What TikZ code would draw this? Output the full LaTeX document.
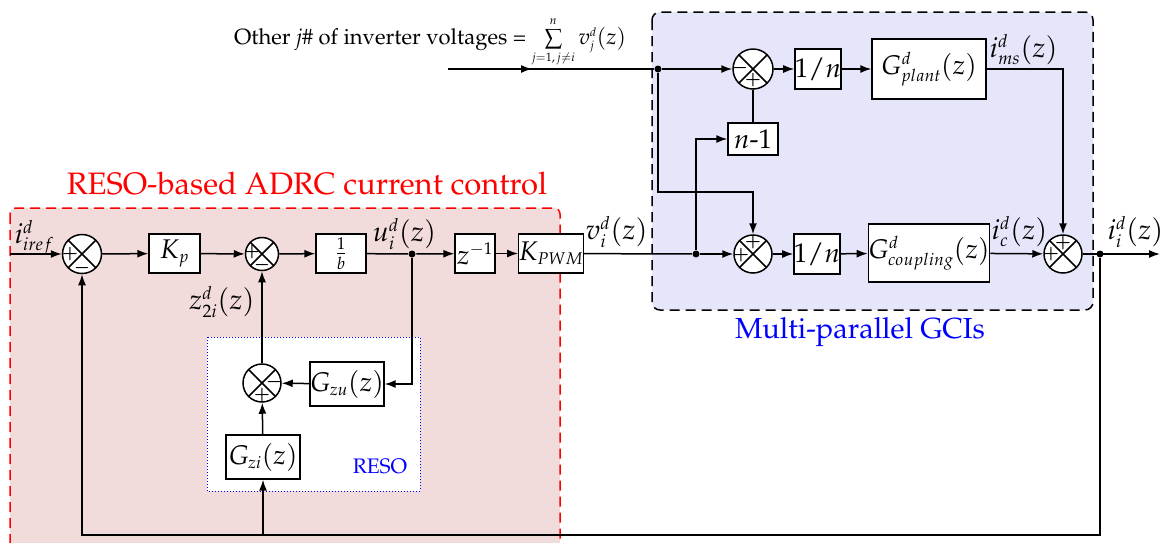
\documentclass[tikz,border=0pt]{standalone}
\usepackage[T1]{fontenc}
\usepackage{mathpazo}
\DeclareMathSizes{28}{28}{18}{13}
\DeclareMathSizes{27}{27}{17}{12}
\DeclareMathSizes{22}{22}{12}{9}
\usetikzlibrary{arrows.meta}
\definecolor{redfill}{RGB}{242,220,219}
\definecolor{bluefill}{RGB}{230,230,250}
\begin{document}
\begin{tikzpicture}[x=1pt,y=-1pt, line width=1.5pt,
  >={Latex[length=11pt,width=8pt]},
  blk/.style={draw, fill=white, line width=1.3pt, inner sep=0pt, font=\fontsize{27}{32}\selectfont},
  sumnode/.style={circle, draw, fill=white, inner sep=0pt, minimum size=#1, line width=1.5pt,
    path picture={\draw[line width=1.5pt] (path picture bounding box.north west)--(path picture bounding box.south east)
      (path picture bounding box.north east)--(path picture bounding box.south west);}},
  sgn/.style={font=\fontsize{17}{17}\selectfont\boldmath, inner sep=0pt},
  lbl/.style={font=\fontsize{28}{32}\selectfont, inner sep=0pt},
  dotn/.style={circle, fill, inner sep=0pt, minimum size=7pt}]
\useasboundingbox (0,0) rectangle (1161,542);
% backgrounds
\draw[red, dash pattern=on 10pt off 6pt, fill=redfill, rounded corners=6, line width=1.5pt] (10,208) rectangle (560,552);
\draw[black, dash pattern=on 10pt off 6pt, fill=bluefill, rounded corners=8, line width=1.5pt] (652,12) rectangle (1093,310);
\draw[blue, dotted, fill=white, line width=1pt] (207,337) rectangle (420,491);
% titles
\node[font=\fontsize{31}{35}\selectfont, text=red] (t1) at (307,184) {RESO-based ADRC current control};
\node[font=\fontsize{29}{33}\selectfont, text=blue] (t2) at (860,332) {Multi-parallel GCIs};
\node[font=\fontsize{21}{25}\selectfont, text=blue] (t3) at (380,466) {RESO};
\node[font=\fontsize{22}{26}\selectfont, anchor=west] (t4) at (230,42) {Other \textit{j}\# of inverter voltages = $\sum\limits_{j=1,\,j\neq i}^{n} v_j^d(z)$};
% sums
\node[sumnode=39pt] (s1) at (82,254) {};
\node[sumnode=33pt] (s2) at (262,254) {};
\node[sumnode=38pt] (s3) at (753,254) {};
\node[sumnode=38pt] (s4) at (1063,254) {};
\node[sumnode=40pt] (st) at (753,69) {};
\node[sumnode=38pt] (s5) at (262,383) {};
% signs
\node[sgn] (p1) at (70,254) {$+$};
\node[sgn] (m1) at (82,268) {$-$};
\node[sgn] (p2) at (252,252) {$+$};
\node[sgn] (m2) at (262,265) {$-$};
\node[sgn] (m3) at (740,68) {$-$};
\node[sgn] (p3) at (753,80) {$+$};
\node[sgn] (p4) at (753,242) {$+$};
\node[sgn] (p5) at (741,255) {$+$};
\node[sgn] (p6) at (1063,243) {$+$};
\node[sgn] (p7) at (1051,254) {$+$};
\node[sgn] (m4) at (274,382) {$-$};
\node[sgn] (p8) at (262,395) {$+$};
% blocks
\node[blk, minimum width=51pt, minimum height=39pt] (kp) at (174.5,253.5) {$K_p$};
\node[blk, minimum width=50pt, minimum height=39pt, font=\fontsize{27}{30}\selectfont] (b) at (341,253.5) {$\textstyle\frac{1}{b}$};
\node[blk, minimum width=40pt, minimum height=39pt] (zi) at (475,253.5) {$z^{-1}$};
\node[blk, minimum width=62pt, minimum height=39pt] (kpwm) at (551,253.5) {$K_{PWM}$};
\node[blk, minimum width=43pt, minimum height=40pt] (nb) at (817,254) {$1/n$};
\node[blk, minimum width=114pt, minimum height=58pt] (gc) at (929,253) {$G^{d}_{coupling}(z)$};
\node[blk, minimum width=42pt, minimum height=40pt] (nt) at (818,69) {$1/n$};
\node[blk, minimum width=114pt, minimum height=60pt] (gp) at (929,69) {$G^{d}_{plant}(z)$};
\node[blk, minimum width=50pt, minimum height=32pt] (nm) at (753,139) {$n$-1};
\node[blk, minimum width=72pt, minimum height=44pt] (gzu) at (347,384) {$G_{zu}(z)$};
\node[blk, minimum width=74pt, minimum height=44pt] (gzi) at (263,457) {$G_{zi}(z)$};
% labels
\node[lbl, anchor=west] (liref) at (14,238) {$i^{d}_{iref}$};
\node[lbl, anchor=west] (lu) at (372,234) {$u_i^{d}(z)$};
\node[lbl] (lz) at (222,302) {$z_{2i}^{d}(z)$};
\node[lbl, anchor=west] (lv) at (585,232) {$v_i^{d}(z)$};
\node[lbl, anchor=west] (lic) at (991,232) {$i_c^{d}(z)$};
\node[lbl, anchor=west] (lii) at (1107,232) {$i_i^{d}(z)$};
\node[lbl, anchor=west] (lims) at (989,50) {$i_{ms}^{d}(z)$};
% junctions
\node[dotn] (uj) at (412,254) {};
\node[dotn] (vj) at (696,254) {};
\node[dotn] (ij) at (1100,254) {};
\node[dotn] (tj) at (658,69) {};
\coordinate (in) at (10,254);
\coordinate (out) at (1160,254);
\coordinate (oin) at (448,69);
\coordinate (omid) at (532,69);
\coordinate (fb1) at (82,535);
\coordinate (fb2) at (263,535);
\coordinate (c1) at (753,192);
% connectors main row
\draw[->] (in) -- (s1);
\draw[->] (s1) -- (kp);
\draw[->] (kp) -- (s2);
\draw[->] (s2) -- (b);
\draw (b) -- (uj);
\draw[->] (uj) -- (zi);
\draw[->] (zi) -- (kpwm);
\draw (kpwm) -- (vj);
\draw[->] (vj) -- (s3);
\draw[->] (s3) -- (nb);
\draw[->] (nb) -- (gc);
\draw[->] (gc) -- (s4);
\draw[->] (s4) -- (out);
% feedback
\draw[->] (ij) |- (fb1) -- (s1.south);
\draw[->] (fb2) -- (gzi.south);
\draw[->] (uj) |- (gzu.east);
\draw[->] (gzu) -- (s5);
\draw[->] (gzi) -- (s5);
\draw[->] (s5) -- (s2);
% upper row
\draw (oin) -- (tj);
\draw[->] (oin) -- (omid);
\draw[->] (tj) -- (st);
\draw[->] (st) -- (nt);
\draw[->] (nt) -- (gp);
\draw[->] (gp.east) -| (s4.north);
\draw[->] (tj) |- (c1) -- (s3.north);
\draw[->] (vj) |- (nm.west);
\draw (nm.north) -- (st.south);
\end{tikzpicture}
\end{document}
